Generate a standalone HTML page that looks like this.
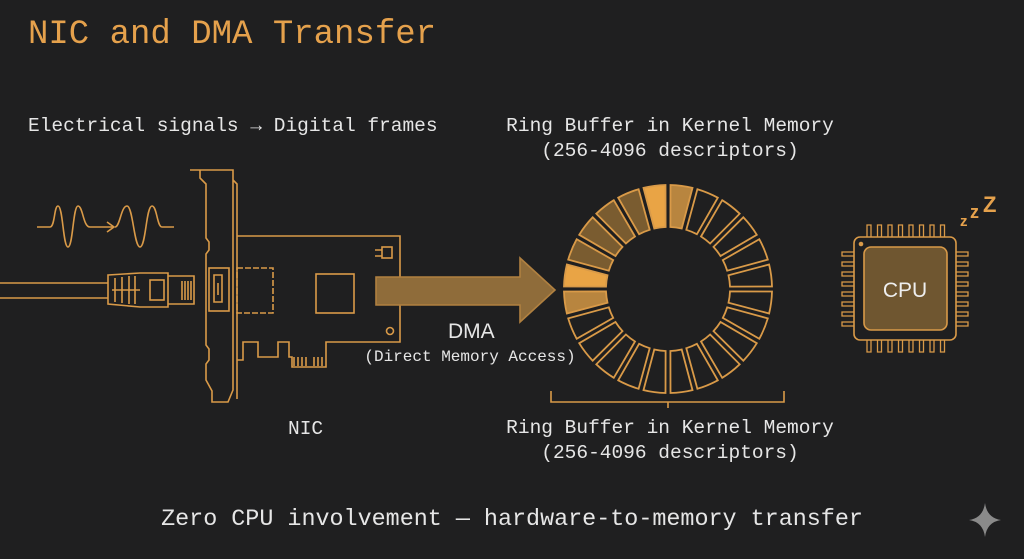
<!DOCTYPE html>
<html><head><meta charset="utf-8"><style>
html,body{margin:0;padding:0;background:#1f1f20;}
body{width:1024px;height:559px;overflow:hidden;position:relative;font-family:"Liberation Mono",monospace;}
.t{position:absolute;white-space:pre;color:#e6e6e6;}
</style></head><body>
<div class="t" style="left:28px;top:15px;font-size:34px;color:#e5a14c;line-height:40px">NIC and DMA Transfer</div>
<div class="t" style="left:28px;top:114px;font-size:19.5px;line-height:24px">Electrical signals → Digital frames</div>
<div class="t" style="left:0;width:1340px;text-align:center;top:114px;font-size:19.5px;line-height:25px">Ring Buffer in Kernel Memory
(256-4096 descriptors)</div>
<div class="t" style="left:0;width:1340px;text-align:center;top:416px;font-size:19.5px;line-height:25px">Ring Buffer in Kernel Memory
(256-4096 descriptors)</div>
<div class="t" style="left:288px;top:418px;font-size:19.5px">NIC</div>
<div class="t" style="left:448px;top:320px;font-size:21px;font-family:'Liberation Sans',sans-serif">DMA</div>
<div class="t" style="left:0;width:940px;text-align:center;top:348px;font-size:16px">(Direct Memory Access)</div>
<div class="t" style="left:0;width:1024px;text-align:center;top:507px;font-size:23.4px">Zero CPU involvement — hardware-to-memory transfer</div>
<svg width="1024" height="559" style="position:absolute;left:0;top:0" fill="none" stroke="#d99a48" stroke-width="1.6">
<path d="M37 227 H50 C55 227 54 206 58 206 C63 206 63 247 68 247 C73 247 73 206 78 206 C83 206 83 227 90 227 H113 M107 222 L114 227 L107 232 M115 227 C120 227 121 206 127 206 C133 206 134 247 140 247 C146 247 146 206 152 206 C157 206 157 227 162 227 H174"/>
<path d="M0 283 H108 M0 298 H108"/>
<path d="M108 275 L140 273 H168 V307 H140 L108 304 Z"/>
<path d="M115 278 V302 M122 277 V303 M129 276 V304 M135 276 V304 M112 290 H140"/>
<rect x="150" y="280" width="14" height="20"/>
<path d="M168 276 H194 V304 H168 M182 281 V300 M185 281 V300 M188 281 V300 M191 281 V300"/>
<path d="M190 170 H233 V180 L237 184 V399 M200 170 V178 L206 184 V238 L209 242 V250 L206 254 V345 L209 349 V360 L206 364 V380 L212 391 V402 H228 L233 390 V170"/>
<rect x="209" y="268" width="20" height="43"/>
<path d="M214 275 H222 V302 H214 Z M218 283 V295"/>
<path d="M237 236 H400 V342 H326 V367 H292 V357 H289 V342 H278 V357 H258 V342 H243 V360 H237"/>
<path d="M294 357 V366 M298 357 V366 M302 357 V366 M306 357 V366 M314 357 V366 M318 357 V366 M322 357 V366"/>
<rect x="237" y="268" width="36" height="45" stroke-dasharray="6 2"/>
<rect x="316" y="274" width="38" height="39"/>
<rect x="382" y="247" width="10" height="11"/><path d="M375 250 H382 M375 256 H382"/>
<circle cx="390" cy="331" r="3.5"/>
<path d="M376 277 H520 V258 L555 290 L520 322 V305 H376 Z" fill="#8f6c3a" stroke="#b08040"/>
<g id="ring" stroke-width="1.8"></g>
<path d="M551 391 V402 H784 V391 M668 402 V408"/>
<rect x="854" y="237" width="102" height="103" rx="6"/>
<rect x="864" y="247" width="83" height="83" rx="7" fill="#6f5630"/>
<circle cx="861" cy="244" r="2.3" fill="#d99a48" stroke="none"/>
<g id="pins" stroke-width="1.3"></g>
<text x="905" y="297" text-anchor="middle" fill="#eeeeee" stroke="none" font-family="Liberation Sans,sans-serif" font-size="21">CPU</text>
<text x="960" y="226" fill="#e5a14c" stroke="none" font-family="Liberation Sans,sans-serif" font-size="15" font-weight="bold">z</text>
<text x="970" y="218" fill="#e5a14c" stroke="none" font-family="Liberation Sans,sans-serif" font-size="18" font-weight="bold">z</text>
<text x="983" y="212" fill="#e5a14c" stroke="none" font-family="Liberation Sans,sans-serif" font-size="22" font-weight="bold">Z</text>
<path d="M985 503 Q987 518 1001 520 Q987 522 985 537 Q983 522 969 520 Q983 518 985 503 Z" fill="#8a8a8a" stroke="none"/>
</svg>
<script>
var ns="http://www.w3.org/2000/svg",g=document.getElementById("ring");
var cx=668,cy=289,R=104,r=62;
function P(a,rad){var t=a*Math.PI/180;return (cx+rad*Math.sin(t)).toFixed(1)+" "+(cy-rad*Math.cos(t)).toFixed(1);}
var fill={345:"#e9a445",0:"#b8853f",330:"#7a5c30",315:"#7a5c30",300:"#7a5c30",285:"#7a5c30",270:"#e9a445",255:"#b8853f"};
for(var i=0;i<24;i++){var a=i*15,a1=a+1.4,a2=a+13.6,ri1=a+2.2,ri2=a+12.8;
var p=document.createElementNS(ns,"path");
p.setAttribute("d","M"+P(a1,R)+" A"+R+" "+R+" 0 0 1 "+P(a2,R)+" L"+P(ri2,r)+" A"+r+" "+r+" 0 0 0 "+P(ri1,r)+" Z");
p.setAttribute("fill",fill[a]||"none");g.appendChild(p);}
var pg=document.getElementById("pins"),s="";
for(var k=0;k<8;k++){var x=867+k*10.5;s+="M"+x+" 237 V225 H"+(x+4)+" V237 M"+x+" 340 V352 H"+(x+4)+" V340 ";
var y=252+k*10;s+="M854 "+y+" H842 V"+(y+4)+" H854 M956 "+y+" H968 V"+(y+4)+" H956 ";}
var pp=document.createElementNS(ns,"path");pp.setAttribute("d",s);pg.appendChild(pp);
</script>
</body></html>
